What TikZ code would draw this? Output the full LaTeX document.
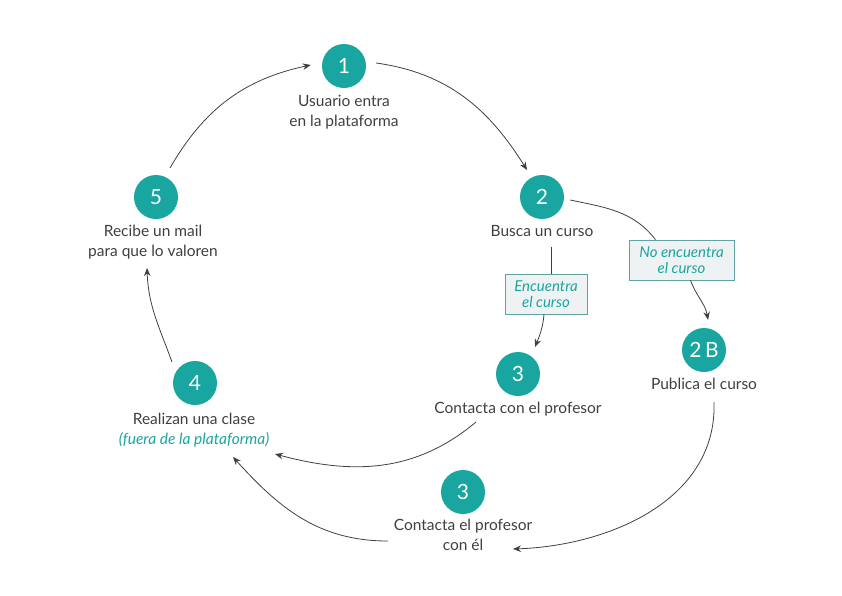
\documentclass[tikz,border=0pt]{standalone}
\usepackage{fontspec}
\setmainfont{Lato}
\usetikzlibrary{arrows.meta}
\definecolor{teal1}{HTML}{1AA6A0}
\definecolor{txt}{HTML}{3F3F3F}
\definecolor{ln}{HTML}{404040}
\definecolor{boxfill}{HTML}{EEF2F2}
\definecolor{boxline}{HTML}{5FA3A3}
\begin{document}
\begin{tikzpicture}[x=1pt,y=1pt,
  num/.style={circle,fill=teal1,minimum size=44pt,inner sep=0pt,text=white,font=\fontsize{21}{21}\selectfont},
  lbl/.style={align=center,text=txt,font=\fontsize{15.5}{19.5}\selectfont},
  tag/.style={draw=boxline,fill=boxfill,line width=0.7pt,align=center,text=teal1,font=\fontsize{15}{16}\selectfont\itshape,inner xsep=2pt,minimum height=40pt},
  arr/.style={draw=ln,line width=0.8pt,-{Stealth[length=8pt,width=6.5pt]}},
  lin/.style={draw=ln,line width=0.8pt}]
\useasboundingbox (0,0) rectangle (842,-595);
% circles
\node[num] (c1) at (344,-66) {1};
\node[num] (c2) at (542,-197) {2};
\node[num] (c5) at (156,-197) {5};
\node[num] (c4) at (195,-383) {4};
\node[num] (c3) at (518,-374) {3};
\node[num] (c2b) at (704,-350) {2\,B};
\node[num] (c3b) at (463,-492) {3};
% labels
\node[lbl,anchor=north] (t1) at (344,-92) {Usuario entra\\en la plataforma};
\node[lbl,anchor=north] (t2) at (542,-222) {Busca un curso};
\node[lbl,anchor=north] (t5) at (153,-222) {Recibe un mail\\para que lo valoren};
\node[lbl,anchor=north] (t4) at (194,-410) {Realizan una clase\\\textcolor{teal1}{\itshape (fuera de la plataforma)}};
\node[lbl,anchor=north] (t3) at (518,-399) {Contacta con el profesor};
\node[lbl,anchor=north] (t2b) at (704,-375) {Publica el curso};
\node[lbl,anchor=north] (t3b) at (463,-516) {Contacta el profesor\\con él};
% tags
\node[tag,minimum width=82pt] (be) at (546,-294) {Encuentra\\el curso};
\node[tag,minimum width=105pt] (bn) at (681.5,-260) {No encuentra\\el curso};
% connectors
\draw[arr] ([xshift=10pt,yshift=3pt]c1.east) to[out=-8,in=122] ([shift={(-15pt,27pt)}]c2.center);
\draw[arr] ([shift={(14pt,29pt)}]c5.center) to[out=60,in=192] ([xshift=-11pt,yshift=1pt]c1.west);
\draw[lin] ([xshift=6pt,yshift=-3pt]c2.east) to[out=-12,in=128] ([xshift=-26pt]bn.north);
\draw[arr] ([xshift=9pt]bn.south) to[out=-70,in=100] ([xshift=4pt,yshift=8pt]c2b.north);
\draw[lin] ([shift={(9pt,-50pt)}]c2.center) -- ([xshift=5pt]be.north);
\draw[arr] ([xshift=-2pt]be.south) to[out=-95,in=68] ([shift={(17pt,27pt)}]c3.center);
\draw[arr] ([shift={(10pt,-52pt)}]c2b.center) to[out=-88,in=2] ([shift={(50pt,-57pt)}]c3b.center);
\draw[arr] ([shift={(-42pt,-48pt)}]c3.center) to[out=-140,in=-15] ([shift={(80pt,-71pt)}]c4.center);
\draw[arr] ([shift={(-75pt,-49pt)}]c3b.center) to[out=180,in=-48] ([shift={(38pt,-74pt)}]c4.center);
\draw[arr] ([shift={(-23pt,21pt)}]c4.center) to[out=110,in=-88] ([shift={(-9pt,-71pt)}]c5.center);
\end{tikzpicture}
\end{document}
